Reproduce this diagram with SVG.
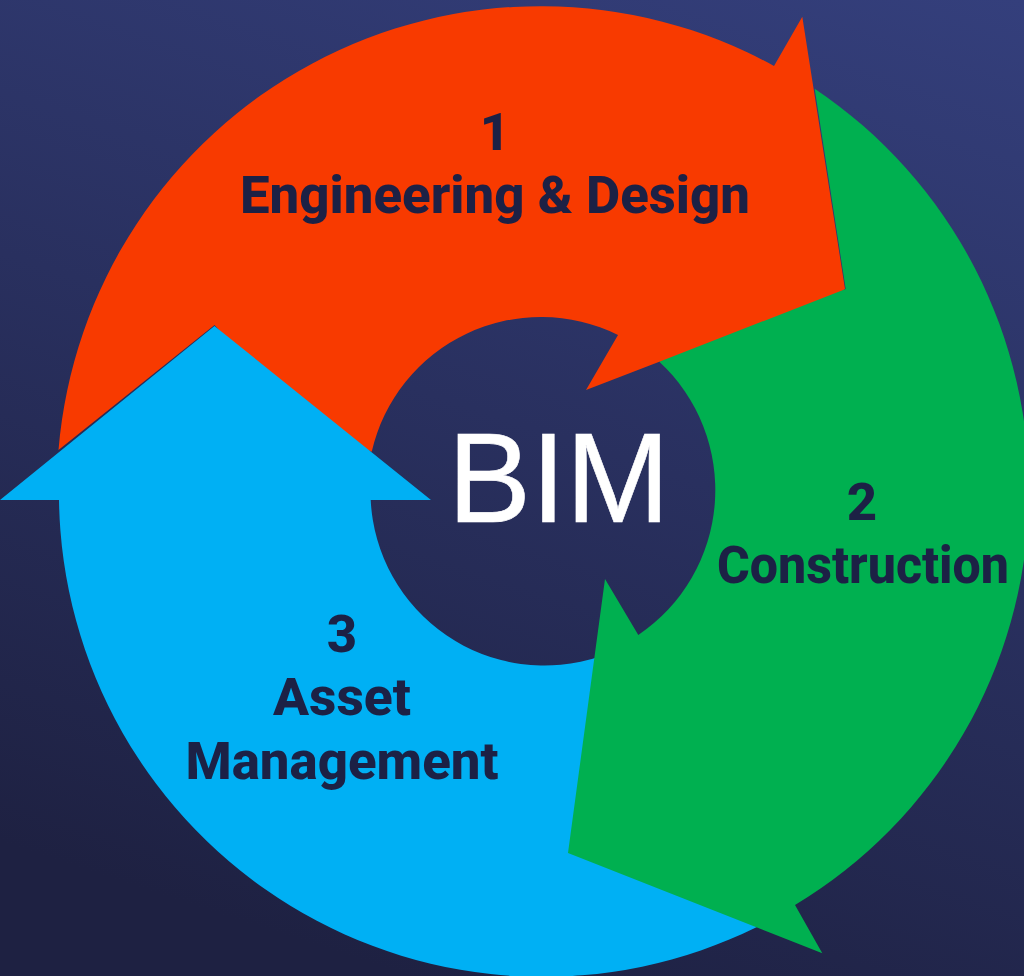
<svg xmlns="http://www.w3.org/2000/svg" width="1024" height="976" viewBox="0 0 1024 976">
<defs>
<linearGradient id="bg" gradientUnits="userSpaceOnUse" x1="1024" y1="0" x2="672" y2="1064"><stop offset="0" stop-color="#343f7c"/><stop offset="1" stop-color="#1e2142"/></linearGradient>
</defs>
<style>
.l{font-family:Roboto,"Liberation Sans",sans-serif;font-weight:800;font-size:52.7px;fill:#1c2145;text-anchor:middle}
.c{font-family:"Liberation Sans",Arial,sans-serif;font-weight:400;font-size:128px;fill:#fff;stroke:#fff;stroke-width:.6}
</style>
<rect width="1024" height="976" fill="url(#bg)"/>
<g id="node-engineering-design">
<path fill="#f83a00" d="M58.5,450 A484,484 0 0 1 774,66 L802.3,16.7 L845,289 L800,322 L680,368 L659.3,361.7 L586,390 L618,335 A173.7,173.7 0 0 0 371.7,451.7 L300,420 L214.5,325 Z"/>
<text class="l" x="495" y="150">1</text>
<text class="l" x="495" y="213" textLength="510" lengthAdjust="spacingAndGlyphs">Engineering &amp; Design</text>
</g>
<g id="node-asset-management">
<path fill="#00b0f4" d="M214.5,326 L431,500 L370.7,500 A174,174 0 0 0 600,656.5 L640,700 L760,900 L757,927 A484,484 0 0 1 59,500 L0,500 Z"/>
<text class="l" x="342" y="652">3</text>
<text class="l" x="342" y="715" textLength="138" lengthAdjust="spacingAndGlyphs">Asset</text>
<text class="l" x="342" y="779" textLength="313" lengthAdjust="spacingAndGlyphs">Management</text>
</g>
<g id="node-construction">
<path fill="#00b050" d="M814.7,88.7 A484,484 0 0 1 795,905 L822.3,953.3 L568,853 L605,579 L638.3,635 A175,175 0 0 0 659.3,361.7 L845.7,289 Z"/>
<text class="l" x="862" y="520">2</text>
<text class="l" x="863" y="582.5" textLength="292" lengthAdjust="spacingAndGlyphs">Construction</text>
</g>
<g id="node-bim">
<text class="c" x="447.8" y="521.7" textLength="222" lengthAdjust="spacingAndGlyphs">BIM</text>
</g>
<g id="connectors"/>
</svg>
